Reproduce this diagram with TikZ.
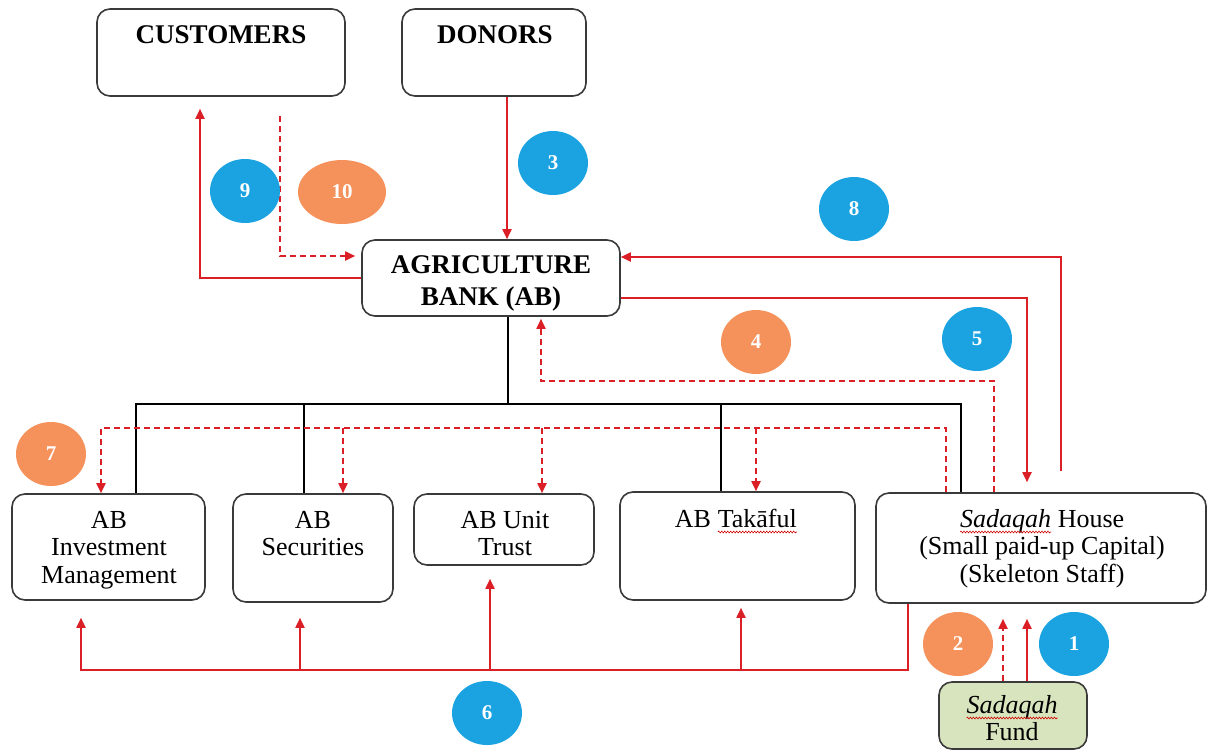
\documentclass[tikz,border=0pt]{standalone}
\usepackage{fontspec}
\setmainfont{Liberation Serif}
\usetikzlibrary{shapes.geometric,arrows.meta,decorations.pathmorphing}
\definecolor{flowred}{HTML}{DA1F26}
\definecolor{boxgray}{HTML}{3A3A3A}
\definecolor{nblue}{HTML}{1BA3E1}
\definecolor{norange}{HTML}{F5915A}
\definecolor{fundgreen}{HTML}{D8E4BD}
\newcommand{\spellmark}[1]{\tikz[baseline=(spw.base)]{\node[inner sep=0pt,outer sep=0pt] (spw) {#1};\draw[draw=red!80!black, line width=0.6pt, decorate, decoration={snake, amplitude=0.9pt, segment length=3pt}] ([yshift=-5pt]spw.base west) -- ([yshift=-5pt]spw.base east);}}
\tikzset{
  box/.style={draw=boxgray, line width=1.6pt, rounded corners=13pt, inner sep=0pt},
  lbl/.style={align=center, inner sep=0pt, anchor=base, font=\fontsize{26}{27.5}\selectfont},
  blbl/.style={align=center, inner sep=0pt, anchor=base, font=\fontsize{27}{32}\selectfont\bfseries},
  flow/.style={draw=flowred, line width=1.8pt, -{Triangle[length=10pt,width=9pt]}},
  dflow/.style={flow, dash pattern=on 6pt off 4pt},
  tree/.style={draw=black, line width=1.8pt},
  num/.style={ellipse, minimum width=70pt, minimum height=64pt, inner sep=0pt, text=white, font=\fontsize{21}{21}\selectfont\bfseries},
  bnum/.style={num, fill=nblue},
  onum/.style={num, fill=norange},
}
\begin{document}
\begin{tikzpicture}[x=1pt,y=-1pt]
\useasboundingbox (0,0) rectangle (1207,750);
% boxes
\node[box, minimum width=248pt, minimum height=87pt] (cust) at (221,52.5) {};
\node[box, minimum width=184pt, minimum height=87pt] (donors) at (494,52.5) {};
\node[box, minimum width=258pt, minimum height=76pt] (ab) at (491,278) {};
\node[box, minimum width=193pt, minimum height=106pt] (im) at (108.5,547) {};
\node[box, minimum width=160pt, minimum height=108pt] (sec) at (313,548) {};
\node[box, minimum width=180pt, minimum height=71pt] (ut) at (504,529.5) {};
\node[box, minimum width=235pt, minimum height=108pt] (tak) at (737.5,546) {};
\node[box, minimum width=330pt, minimum height=110pt] (sh) at (1041,548) {};
\node[box, fill=fundgreen, minimum width=148pt, minimum height=67pt] (fund) at (1013,715.5) {};
% texts (anchored at the baseline of the last line)
\node[blbl] (tcust) at (221,43) {CUSTOMERS};
\node[blbl] (tdonors) at (495,43) {DONORS};
\node[blbl] (tab) at (491,305) {AGRICULTURE\\BANK (AB)};
\node[lbl] (tim) at (109,583) {AB\\Investment\\Management};
\node[lbl] (tsec) at (313,555.5) {AB\\Securities};
\node[lbl] (tut) at (505,555.5) {AB Unit\\Trust};
\node[lbl] (ttak) at (736,527) {AB \spellmark{Takāful}};
\node[lbl] (tsh) at (1042,582) {\spellmark{\textit{Sadaqah}} House\\(Small paid-up Capital)\\(Skeleton Staff)};
\node[lbl] (tfund) at (1012,740.5) {\spellmark{\textit{Sadaqah}}\\Fund};
% black tree
\coordinate (abbot) at ([xshift=17pt]ab.south);
\coordinate (bus) at ([yshift=-87pt]abbot);
\coordinate (t1) at ([xshift=27.5pt]im.north);
\coordinate (t2) at ([xshift=-9pt]sec.north);
\coordinate (t4) at ([xshift=-16.5pt]tak.north);
\coordinate (t5) at ([xshift=-80pt]sh.north);
\draw[tree] (abbot) -- (bus);
\draw[tree] (t1) |- (bus) -| (t5);
\draw[tree] (t2) -- (t2 |- bus);
\draw[tree] (t4) -- (t4 |- bus);
% 3: donors -> AB
\draw[flow] ([xshift=13pt]donors.south) -- ([xshift=16pt]ab.north);
% 9: AB -> customers
\draw[flow] (ab.west) -| ([xshift=-21pt,yshift=-12pt]cust.south);
% 10: customers -> AB
\draw[dflow] ([xshift=59pt,yshift=-19pt]cust.south) |- ([xshift=-6pt,yshift=22pt]ab.west);
% 8: Sadaqah House -> AB
\draw[flow] ([xshift=20pt,yshift=21pt]sh.north) |- ([yshift=21pt]ab.east);
% 5: AB -> Sadaqah House
\draw[flow] ([yshift=-20pt]ab.east) -| ([xshift=-14pt,yshift=10pt]sh.north);
% 4: Sadaqah House -> AB (dashed)
\draw[dflow] ([xshift=-47pt]sh.north) -- ++(0,-111) -| ([xshift=50pt,yshift=-2pt]ab.south);
% 7: Sadaqah House -> subsidiaries (dashed)
\coordinate (s7) at ([xshift=-95pt]sh.north);
\coordinate (d7) at ([yshift=64pt]s7);
\coordinate (sec7) at ([xshift=30pt]sec.north);
\coordinate (ut7) at ([xshift=38pt]ut.north);
\coordinate (tak7) at ([xshift=18.5pt]tak.north);
\draw[dflow] (s7) -- (d7) -| ([xshift=-7.5pt]im.north);
\draw[dflow] (sec7 |- d7) -- (sec7);
\draw[dflow] (ut7 |- d7) -- (ut7);
\draw[dflow] (tak7 |- d7) -- (tak7);
% 6: Sadaqah House -> subsidiaries (solid)
\coordinate (s6) at ([xshift=-133pt]sh.south);
\coordinate (d6) at ([yshift=-66pt]s6);
\coordinate (sec6) at ([xshift=-13pt,yshift=-15pt]sec.south);
\coordinate (ut6) at ([xshift=-14pt,yshift=-13pt]ut.south);
\coordinate (tak6) at ([xshift=3.5pt,yshift=-7pt]tak.south);
\draw[flow] (s6) -- (d6) -| ([xshift=-27.5pt,yshift=-17pt]im.south);
\draw[flow] (sec6 |- d6) -- (sec6);
\draw[flow] (ut6 |- d6) -- (ut6);
\draw[flow] (tak6 |- d6) -- (tak6);
% 1, 2: fund -> Sadaqah House
\draw[dflow] ([xshift=-10pt]fund.north) -- ([xshift=-38pt,yshift=-15pt]sh.south);
\draw[flow] ([xshift=14pt]fund.north) -- ([xshift=-14pt,yshift=-15pt]sh.south);
% number badges
\node[bnum] (n1) at (1074,644) {1};
\node[onum] (n2) at (958,644) {2};
\node[bnum] (n3) at (553,163) {3};
\node[onum] (n4) at (756,342) {4};
\node[bnum] (n5) at (977,339) {5};
\node[bnum] (n6) at (487,713) {6};
\node[onum] (n7) at (51,454) {7};
\node[bnum] (n8) at (854,209) {8};
\node[bnum] (n9) at (245,191) {9};
\node[onum, minimum width=88pt] (n10) at (342,192) {10};
\end{tikzpicture}
\end{document}
